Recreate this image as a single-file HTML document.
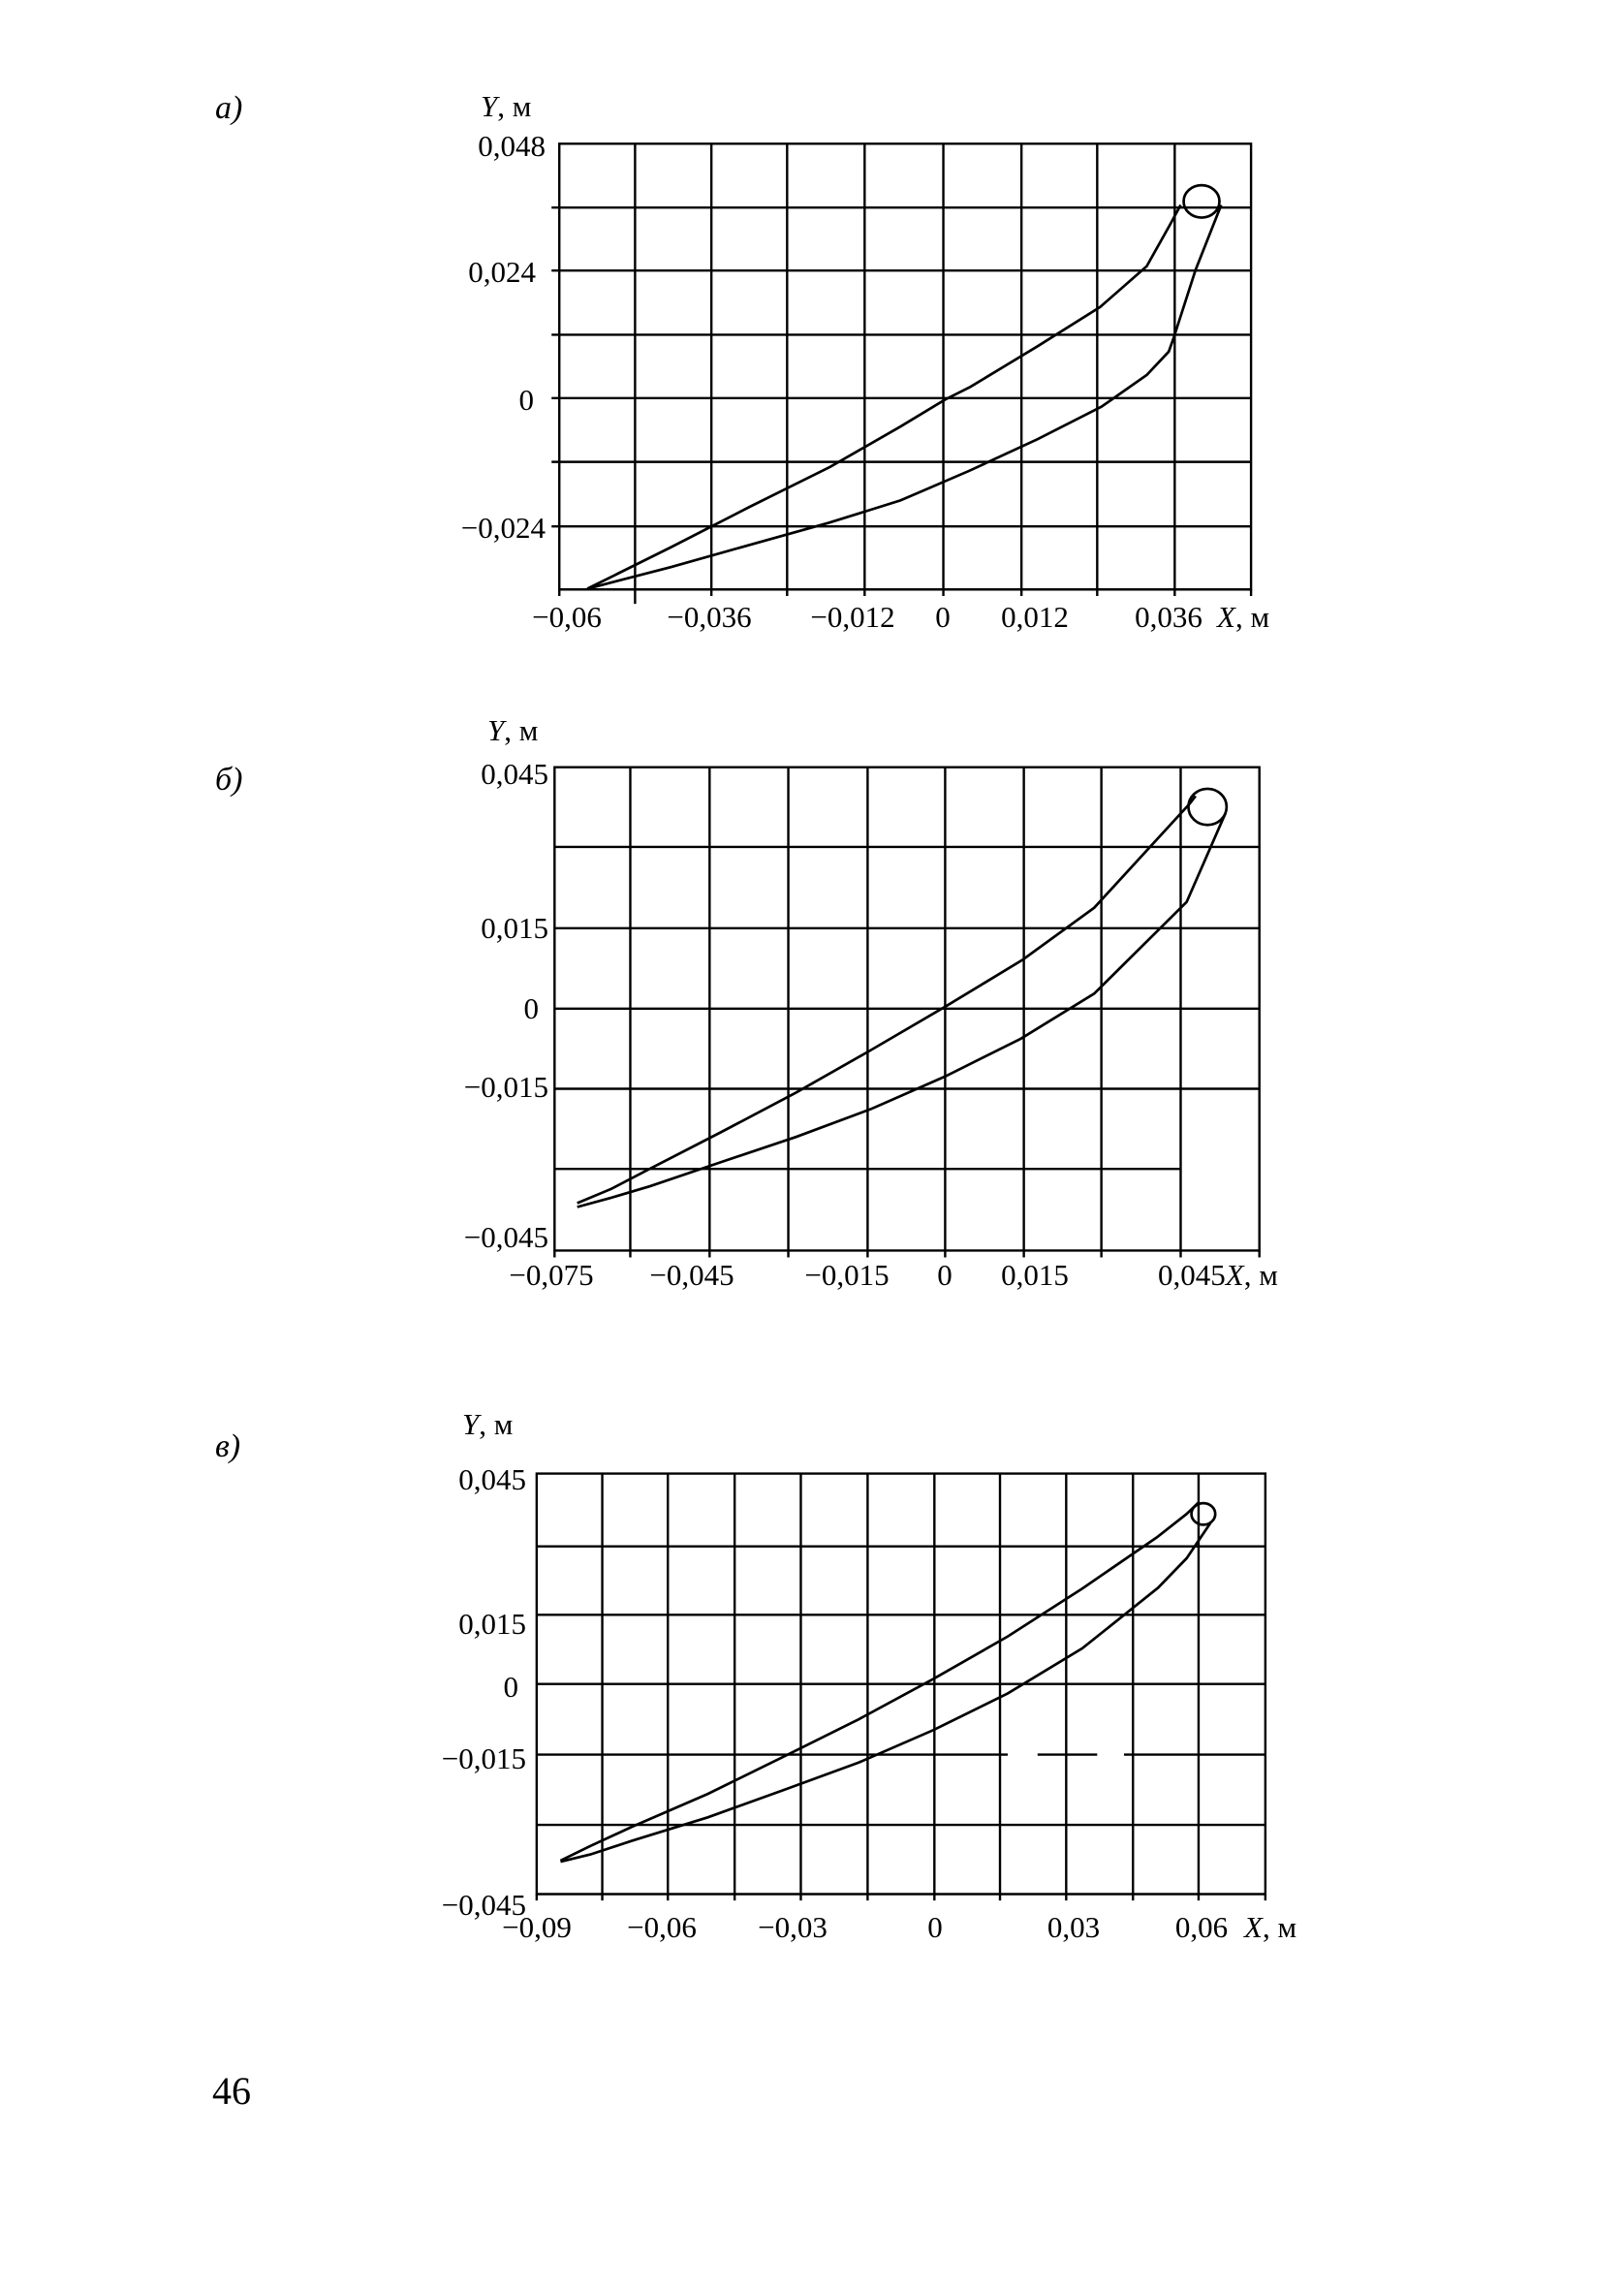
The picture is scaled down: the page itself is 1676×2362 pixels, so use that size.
<!DOCTYPE html>
<html><head><meta charset="utf-8"><style>
html,body{margin:0;padding:0;background:#fff}
svg{display:block}
text{font-family:"Liberation Serif",serif;fill:#000;font-size:31px}
.g *{stroke:#000;stroke-width:2.4;fill:none;vector-effect:non-scaling-stroke}
.c{stroke:#000;stroke-width:2.7;fill:none;vector-effect:non-scaling-stroke}
.e{text-anchor:end}.m{text-anchor:middle}
</style></head><body>
<svg width="1676" height="2362" viewBox="0 0 1676 2362" xmlns="http://www.w3.org/2000/svg">
<text x="222" y="122" style="font-size:34px" font-style="italic">a)</text>
<text x="222" y="815" style="font-size:34px" font-style="italic">б)</text>
<text x="222" y="1503" style="font-size:34px" font-style="italic">в)</text>
<text x="219" y="2171" style="font-size:40px">46</text>

<!-- Chart a -->
<g transform="translate(400,100) scale(0.6154,0.3718)">
<g class="g">
<rect x="288" y="130" width="1160" height="1237"/>
<path d="M415 130V1367M543 130V1367M670 130V1367M800 130V1367M932 130V1367M1063 130V1367M1190 130V1367M1320 130V1367"/>
<path d="M288 307H1448M288 482H1448M288 660H1448M288 836H1448M288 1013H1448M288 1192H1448"/>
<path d="M288 1367v18M415 1367v40M543 1367v18M670 1367v18M800 1367v18M932 1367v18M1063 1367v18M1190 1367v18M1320 1367v18M1448 1367v18M275 307h13M275 482h13M275 660h13M275 836h13M275 1013h13M275 1192h13"/>
</g>
<polyline class="c" points="335,1365 475,1250 608,1137 742,1027 860,915 935,840 977,805 1090,692 1195,583 1273,470 1312,355 1330,300"/>
<polyline class="c" points="1398,300 1355,480 1318,670 1310,707 1273,772 1197,860 1090,950 975,1038 860,1120 740,1182 610,1242 475,1305 335,1365"/>
<ellipse class="c" cx="1365" cy="290" rx="30" ry="45"/>
</g>
<text x="496" y="120"><tspan font-style="italic">Y</tspan>, м</text>
<text class="e" x="563" y="161">0,048</text><text class="e" x="553" y="291">0,024</text><text class="e" x="551" y="423">0</text><text class="e" x="563" y="555">−0,024</text>
<text class="m" x="585" y="647">−0,06</text><text class="m" x="732" y="647">−0,036</text><text class="m" x="880" y="647">−0,012</text><text class="m" x="973" y="647">0</text><text class="m" x="1068" y="647">0,012</text><text class="m" x="1206" y="647">0,036</text>
<text x="1256" y="647"><tspan font-style="italic">X</tspan>,  м</text>

<!-- Chart b -->
<g transform="translate(400,740) scale(0.6154,0.3974)">
<g class="g">
<rect x="280" y="130" width="1182" height="1255"/>
<path d="M407 130V1385M540 130V1385M672 130V1385M805 130V1385M935 130V1385M1067 130V1385M1197 130V1385M1330 130V1385"/>
<path d="M280 337H1462M280 548H1462M280 757H1462M280 965H1462M280 1173H1330"/>
<path d="M280 1385v18M407 1385v18M540 1385v18M672 1385v18M805 1385v18M935 1385v18M1067 1385v18M1197 1385v18M1330 1385v18M1462 1385v18"/>
</g>
<polyline class="c" points="318,1262 375,1225 437,1175 560,1077 685,975 810,865 935,752 1065,630 1185,495 1345,225 1355,205"/>
<polyline class="c" points="1405,250 1340,480 1185,718 1062,835 935,933 810,1018 685,1090 560,1155 440,1218 375,1248 318,1272"/>
<ellipse class="c" cx="1375" cy="233" rx="32" ry="47"/>
</g>
<text x="503" y="764"><tspan font-style="italic">Y</tspan>, м</text>
<text class="e" x="566" y="809">0,045</text><text class="e" x="566" y="968">0,015</text><text class="e" x="556" y="1051">0</text><text class="e" x="566" y="1132">−0,015</text><text class="e" x="566" y="1287">−0,045</text>
<text class="m" x="569" y="1326">−0,075</text><text class="m" x="714" y="1326">−0,045</text><text class="m" x="874" y="1326">−0,015</text><text class="m" x="975" y="1326">0</text><text class="m" x="1068" y="1326">0,015</text>
<text x="1195" y="1326">0,045<tspan font-style="italic">X</tspan>,  м</text>

<!-- Chart c -->
<g transform="translate(400,1460) scale(0.6154,0.3718)">
<g class="g">
<rect x="250" y="163" width="1222" height="1167"/>
<path d="M360 163V1330M470 163V1330M582 163V1330M693 163V1330M805 163V1330M917 163V1330M1027 163V1330M1138 163V1330M1250 163V1330M1360 163V1330"/>
<path d="M250 365H1472M250 555H1472M250 747H1472M250 943H1040M1090 943H1190M1235 943H1472M250 1138H1472"/>
<path d="M250 1330v18M360 1330v18M470 1330v18M582 1330v18M693 1330v18M805 1330v18M917 1330v18M1027 1330v18M1138 1330v18M1250 1330v18M1360 1330v18M1472 1330v18"/>
</g>
<polyline class="c" points="290,1237 342,1195 410,1143 537,1052 660,952 790,845 915,733 1040,615 1165,482 1290,340 1340,275 1360,243"/>
<polyline class="c" points="1380,300 1340,398 1292,480 1165,648 1040,773 915,875 790,965 663,1042 537,1117 410,1182 340,1220 290,1240"/>
<ellipse class="c" cx="1368" cy="275" rx="20" ry="30"/>
</g>
<text x="477" y="1480"><tspan font-style="italic">Y</tspan>, м</text>
<text class="e" x="543" y="1537">0,045</text><text class="e" x="543" y="1686">0,015</text><text class="e" x="535" y="1751">0</text><text class="e" x="543" y="1825">−0,015</text><text class="e" x="543" y="1976">−0,045</text>
<text class="m" x="554" y="1999">−0,09</text><text class="m" x="683" y="1999">−0,06</text><text class="m" x="818" y="1999">−0,03</text><text class="m" x="965" y="1999">0</text><text class="m" x="1108" y="1999">0,03</text><text class="m" x="1240" y="1999">0,06</text>
<text x="1284" y="1999"><tspan font-style="italic">X</tspan>,  м</text>
</svg>
</body></html>
